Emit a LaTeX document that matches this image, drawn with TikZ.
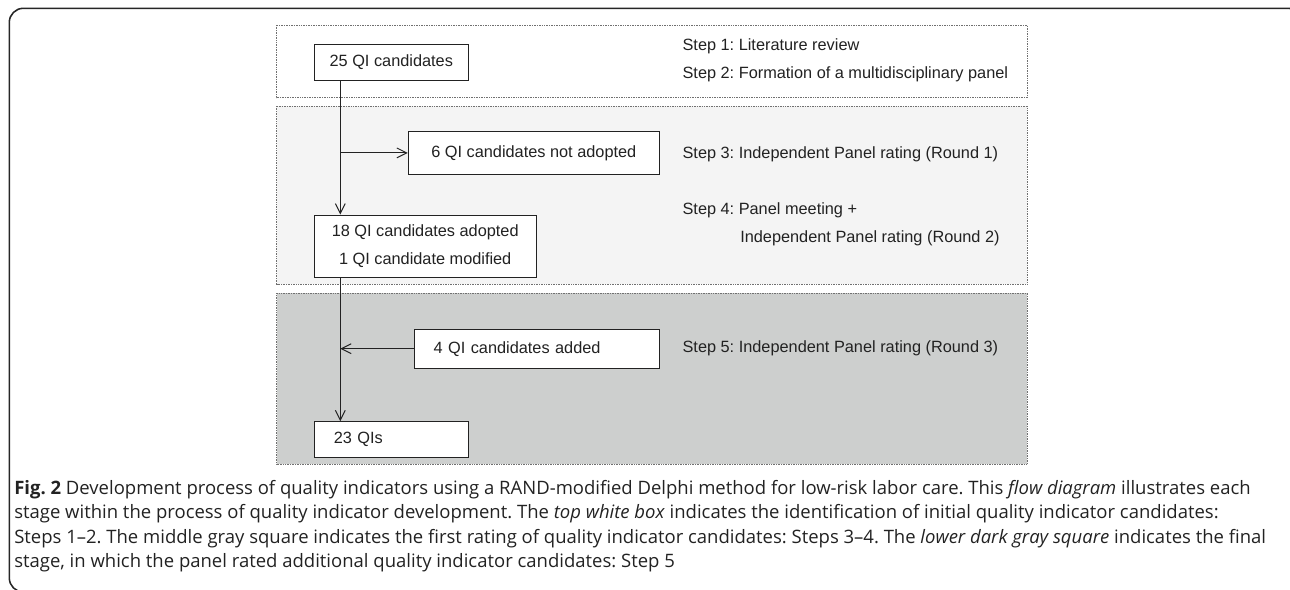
\documentclass[tikz,border=0pt]{standalone}
\usepackage{fontspec}
\setmainfont{Liberation Sans}
\newfontfamily\capfont{Open Sans}
\usetikzlibrary{arrows.meta}
\definecolor{panelmid}{HTML}{F4F4F4}
\definecolor{paneldark}{HTML}{CDCFCE}
\definecolor{dotgray}{HTML}{707070}
\definecolor{inkgray}{HTML}{222222}
\frenchspacing

\begin{document}
\begin{tikzpicture}[x=0.025cm,y=-0.025cm,
  panel/.style={draw=dotgray,line width=0.5pt,dash pattern=on 0.6pt off 0.6pt},
  box/.style={draw=inkgray,line width=0.7pt,fill=white,inner sep=0pt,text=inkgray,font=\fontsize{11.6}{19.9}\selectfont},
  steptext/.style={anchor=west,inner sep=0pt,text=inkgray,font=\fontsize{11.6}{14}\selectfont},
  flow/.style={draw=inkgray,line width=0.7pt},
  >={Straight Barb[length=7pt,width=7pt]}]
\useasboundingbox (0,0) rectangle (1290,590);
\clip (0,0) rectangle (1290,590);

% frame
\draw[line width=1.1pt,black!85,rounded corners=10pt] (9.3,8.3) rectangle (1302,592);

% the three stages
\draw[panel,fill=white] (276.7,25) rectangle (1027.3,97.7);
\draw[panel,fill=panelmid] (276.7,106) rectangle (1027.3,284);
\draw[panel,fill=paneldark] (276.7,293.3) rectangle (1027.3,464);

\node[box,minimum width=3.85cm,minimum height=0.9075cm] (1) at (391.3,62.2) {25 QI candidates};

\node[box,minimum width=6.275cm,minimum height=1.0575cm] (2) at (533.8,152.9) {6 QI candidates not adopted};

\node[box,minimum width=5.5425cm,minimum height=1.5575cm,align=center] (3) at (425.2,246.2) {18 QI candidates adopted\\1 QI candidate modified};

\node[box,minimum width=6.1325cm,minimum height=0.9825cm,text width=5.15cm,inner xsep=0.49cm,align=left] (4) at (536.7,348.7) {4 QI candidates added};

\node[box,minimum width=3.85cm,minimum height=0.89cm,text width=2.87cm,inner xsep=0.49cm,align=left] (5) at (391.3,439.5) {23 QIs};

\coordinate (b2) at (340.3,152.9);
\coordinate (b4) at (340.3,348.7);

\draw[flow,->] (1.south -| b2) -- (3.north -| b2);
\draw[flow,->] (b2) -- (2.west);
\draw[flow,->] (3.south -| b4) -- (5.north -| b4);
\draw[flow,->] (4.west) -- (b4);

% steps
\node[steptext] (s1) at (682.3,46) {Step 1: Literature review};
\node[steptext] (s2) at (682.3,74) {Step 2: Formation of a multidisciplinary panel};
\node[steptext] (s3) at (682.3,154.3) {Step 3: Independent Panel rating (Round 1)};
\node[steptext] (s4) at (682.3,210.7) {Step 4: Panel meeting +};
\node[steptext] (s4b) at (740,238.3) {Independent Panel rating (Round 2)};
\node[steptext] (s5) at (682.3,348.7) {Step 5: Independent Panel rating (Round 3)};

% caption
\node[anchor=north west,inner sep=0pt,align=left,text=inkgray,font=\capfont\fontsize{13.15}{17.3}\selectfont] (cap) at (14,480) {\textbf{Fig. 2} Development process of quality indicators using a RAND-modified Delphi method for low-risk labor care. This \textit{flow diagram} illustrates each\\stage within the process of quality indicator development. The \textit{top white box} indicates the identification of initial quality indicator candidates:\\Steps 1–2. The middle gray square indicates the first rating of quality indicator candidates: Steps 3–4. The \textit{lower dark gray square} indicates the final\\stage, in which the panel rated additional quality indicator candidates: Step 5};

\end{tikzpicture}
\end{document}
